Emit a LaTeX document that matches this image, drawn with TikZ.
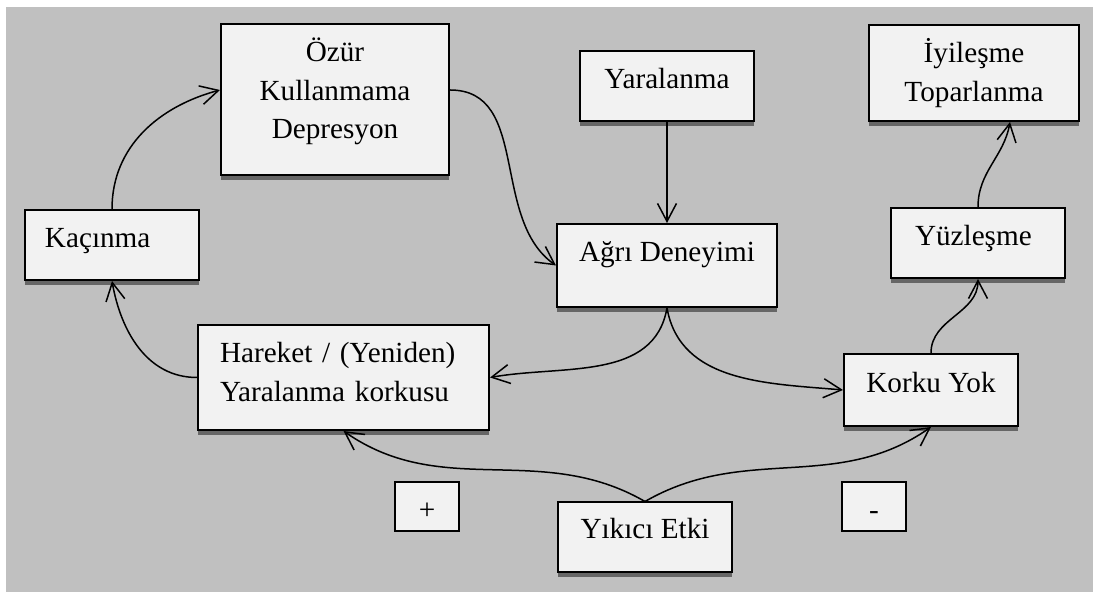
\documentclass[tikz,border=0pt]{standalone}
\usepackage{fontspec}
\setmainfont{Liberation Serif}
\usepackage{xcolor}
\usepackage{tikz}
\usetikzlibrary{arrows.meta,shadows}
\definecolor{bggray}{HTML}{C0C0C0}
\definecolor{boxgray}{HTML}{F2F2F2}
\tikzset{
  kbox/.style={
    rectangle, draw=black, line width=1pt, fill=boxgray,
    minimum width=87pt, minimum height=35pt, inner sep=3pt,
    align=center, font=\fontsize{14.6}{19.25}\selectfont,
    text height=10pt, text depth=7.5pt,
    drop shadow={shadow xshift=0pt, shadow yshift=-2.5pt, fill=black!60, opacity=1}
  },
  kleft/.style={kbox, align=left},
  ksign/.style={
    rectangle, draw=black, line width=1pt, fill=boxgray,
    minimum width=32pt, minimum height=24.5pt, inner sep=0pt,
    font=\fontsize{14.6}{19.25}\selectfont, text height=13.5pt, text depth=0pt
  },
  karrow/.style={-{Straight Barb[length=9pt,width=9.5pt]}, line width=0.75pt, draw=black},
}
\begin{document}
\begin{tikzpicture}[x=0.5pt, y=0.5pt]
  \useasboundingbox (0,0) rectangle (1093,-592);
  \fill[bggray] (6,-7) rectangle (1093,-592);

  \node (n1) [kbox, minimum width=114pt, minimum height=75.5pt, text width=108pt, text depth=47.5pt] at (335,-99.5) {Özür\\Kullanmama\\Depresyon};
  \node (n2) [kbox] at (667,-86) {Yaralanma};
  \node (n3) [kbox, minimum width=110pt, minimum height=41.5pt, text depth=13.5pt] at (667,-265.5) {Ağrı Deneyimi};
  \node (n4) [kbox, minimum width=105pt, minimum height=48pt, text width=99pt, text depth=20pt] at (974,-73) {İyileşme\\Toparlanma};
  \node (n5) [kleft, inner xsep=12pt, text width=63pt] at (978,-243) {Yüzleşme};
  \node (n6) [kleft, inner xsep=10pt, text width=67pt] at (112,-245) {Kaçınma};
  \node (n7) [kleft, minimum width=145.5pt, minimum height=52.5pt, inner xsep=11pt, text width=123.5pt, text depth=24.5pt] at (343.5,-377.5) {Hareket / (Yeniden)\\Yaralanma korkusu};
  \node (n8) [kbox, minimum height=36pt] at (931,-390) {Korku Yok};
  \node (n9) [kbox, text depth=8.5pt] at (645,-537.5) {Yıkıcı Etki};
  \node (n10) [ksign] at (427,-506.5) {+};
  \node (n11) [ksign] at (874,-506.5) {-};

  \draw[karrow] (n6.north) to[out=90,in=195] ([yshift=4.75pt]n1.west);
  \draw[karrow] ([yshift=4.75pt]n1.east) to[out=0,in=145] (n3.west);
  \draw[karrow] (n2) -- (n3);
  \draw[karrow] (n3.south) to[out=-100,in=10] (n7.east);
  \draw[karrow] (n3.south) to[out=-80,in=175] (n8.west);
  \draw[karrow] (n7.west) to[out=180,in=-80] (n6.south);
  \draw[karrow] (n9.north) to[out=150,in=-35] (n7.south);
  \draw[karrow] (n9.north) to[out=30,in=-145] (n8.south);
  \draw[karrow] (n8.north) to[out=90,in=-90] (n5.south);
  \draw[karrow] (n5.north) to[out=90,in=-100] ([xshift=18pt]n4.south);
\end{tikzpicture}
\end{document}
